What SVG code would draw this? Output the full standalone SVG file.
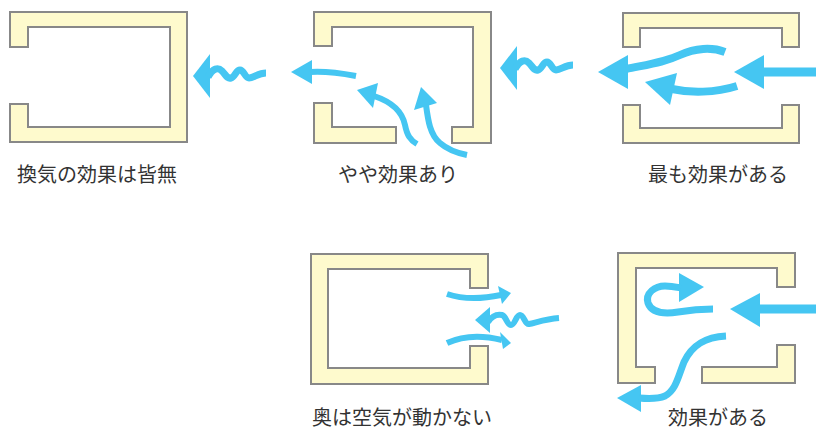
<svg xmlns="http://www.w3.org/2000/svg" xmlns:xlink="http://www.w3.org/1999/xlink" width="816" height="431" viewBox="0 0 816 431">
  <style>
    .wall { fill: #fefacd; stroke: #888888; stroke-width: 2; stroke-linejoin: miter; }
    .head { fill: #45c6f2; }
    .tail { fill: none; stroke: #45c6f2; stroke-width: 6; stroke-linecap: butt; }
    .thick { stroke-width: 8; }
    .label { font-family: "Noto Sans CJK JP", "Noto Sans", sans-serif; font-size: 20px; fill: #333333; }
  </style>
  <defs>
    <!-- wavy arrow pointing left, tip at origin -->
    <g id="wave">
      <polygon class="head" points="0,0 17,-22 17,22"/>
      <path class="tail" style="stroke-width:7" d="M15,1 C20,-8 25,-9 29,-5 C33,-1 34,3 38,2 C42,1 43,-6 47,-6 C51,-6 52,2 56,2 C61,2 65,-3 73,-3"/>
    </g>
  </defs>

  <!-- closed on three sides: no ventilation -->
  <g id="room-none">
    <path class="wall" d="M10,12 H187 V142 H10 V104 H28 V127 H170 V27 H28 V47 H10 Z"/>
    <text class="label" x="17" y="182">換気の効果は皆無</text>
  </g>

  <!-- openings on two adjacent sides -->
  <g id="room-some">
    <path class="wall" d="M314,12 H491 V143 H452 V127 H473 V27 H332 V46 H314 Z"/>
    <path class="wall" d="M314,103 H332 V127 H396 V143 H314 Z"/>
    <text class="label" x="338" y="182">やや効果あり</text>
  </g>

  <!-- openings on opposite sides -->
  <g id="room-best">
    <path class="wall" d="M623,13 H799 V47 H782 V28 H640 V47 H623 Z"/>
    <path class="wall" d="M623,105 H640 V128 H782 V105 H799 V143 H623 Z"/>
    <text class="label" x="648" y="182">最も効果がある</text>
  </g>

  <!-- single opening: back of room stays still -->
  <g id="room-still">
    <path class="wall" d="M311,254 H488 V288 H470 V269 H328 V368 H470 V346 H488 V384 H311 Z"/>
    <text class="label" x="312" y="425">奥は空気が動かない</text>
  </g>

  <!-- openings on right and bottom corner -->
  <g id="room-good">
    <path class="wall" d="M618,253 H795 V287 H777 V268 H636 V367 H655 V383 H618 Z"/>
    <path class="wall" d="M702,367 H777 V345 H795 V383 H702 Z"/>
    <text class="label" x="668" y="425">効果がある</text>
  </g>

  <g id="airflow">
    <!-- row 1 -->
    <use xlink:href="#wave" href="#wave" x="193" y="76"/>
    <use xlink:href="#wave" href="#wave" x="500" y="68"/>

    <polygon class="head" points="291,72 312,60 312,84"/>
    <path class="tail" d="M310,72 C325,71 340,73 356,76"/>
    <polygon class="head" points="357,90 378,83 373,108"/>
    <path class="tail" d="M374,96 C395,103 403,115 405,125 C407,135 410,140 417,144"/>
    <polygon class="head" points="421,87 414,110 437,103"/>
    <path class="tail" d="M426,105 C428,120 430,135 440,143 C448,150 457,153 467,155"/>

    <polygon class="head" points="734,72 764,55 764,89"/>
    <path class="tail" style="stroke-width:9" d="M762,72 H816"/>
    <polygon class="head" points="598,72 628,55 628,89"/>
    <path class="tail thick" d="M626,69 C650,64 665,62 680,55 C695,48 712,47 725,52"/>
    <polygon class="head" points="645,82 677,73 670,105"/>
    <path class="tail thick" d="M672,89 C690,93 715,93 737,86"/>

    <!-- row 2 -->
    <polygon class="head" points="511,293 498,286 502,304"/>
    <path class="tail" d="M447,294 C465,300 482,299 501,295"/>
    <polygon class="head" points="511,343 500,332 503,349"/>
    <path class="tail" d="M447,343 C462,336 482,335 502,340"/>
    <polygon class="head" points="475,320 490,307 490,333"/>
    <path class="tail" d="M488,322 C492,316 497,314 502,315 C506,316 507,325 511,325 C515,325 516,315 520,315 C524,315 525,325 529,324 C535,323 545,319 559,318"/>

    <polygon class="head" points="730,309 760,293 760,327"/>
    <path class="tail" style="stroke-width:9" d="M758,309 H816"/>
    <polygon class="head" points="704,287 679,273 679,302"/>
    <path class="tail" style="stroke-width:7" d="M713,309 C700,309 690,310 678,312 C665,314 652,314 648,303 C645,293 655,286 665,286 C672,286 676,287 681,288"/>
    <polygon class="head" points="617,398 641,385 641,412"/>
    <path class="tail" style="stroke-width:7" d="M726,336 C705,337 692,345 684,362 C678,377 676,390 665,396 C658,399 650,399 639,398"/>
  </g>
</svg>
